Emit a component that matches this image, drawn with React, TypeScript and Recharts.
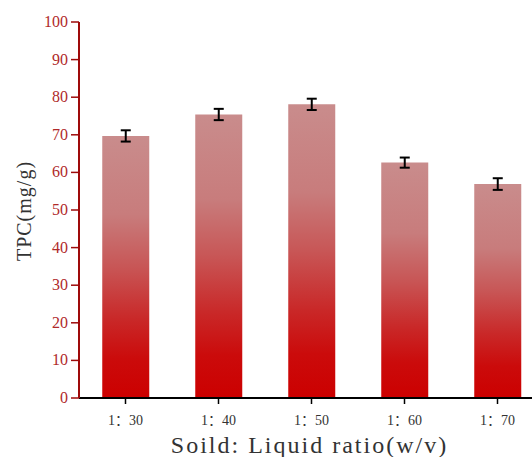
import React from 'react';
import { BarChart, Bar, XAxis, YAxis, ErrorBar, Label } from 'recharts';

const ratios = ['1：30', '1：40', '1：50', '1：60', '1：70'];
const tpcValues = [69.7, 75.4, 78.1, 62.6, 56.9];
const tpcErrors = [1.5, 1.5, 1.5, 1.35, 1.55];
const yMajorTicks = [0, 10, 20, 30, 40, 50, 60, 70, 80, 90, 100];
const yMinorTicks = [5, 15, 25, 35, 45, 55, 65, 75, 85, 95];
const xMinorTicks = [0, 1, 2, 3, 4, 5];

const data = ratios.map((r, i) => ({ ratio: r, tpc: tpcValues[i], err: tpcErrors[i] }));

const SERIF = "'Liberation Serif', 'Noto Sans CJK SC', serif";
const AXIS_RED = '#9e0a0a';

const XTick = (props: any) => {
  const { x, y, payload } = props;
  return (
    <text x={x} y={y + 19} textAnchor="middle" fontSize={14} fill="#333" style={{ fontFamily: SERIF }}>
      {payload.value}
    </text>
  );
};

const YTick = (props: any) => {
  const { x, y, payload } = props;
  return (
    <text x={x - 1} y={y + 5} textAnchor="end" fontSize={16} fill="#b02a2a" style={{ fontFamily: SERIF }}>
      {payload.value}
    </text>
  );
};

const XTitle = (props: any) => {
  const vb = props.viewBox;
  return (
    <text
      x={vb.x + vb.width / 2 - 2}
      y={vb.y + vb.height - 4}
      textAnchor="middle"
      fontSize={24}
      fill="#333"
      style={{ fontFamily: SERIF, letterSpacing: '2px' }}
    >
      Soild: Liquid ratio(w/v)
    </text>
  );
};

const YTitle = (props: any) => {
  const vb = props.viewBox;
  const cx = vb.x + 31;
  const cy = vb.y + vb.height / 2 + 1;
  return (
    <text
      x={cx}
      y={cy}
      transform={`rotate(-90 ${cx} ${cy})`}
      textAnchor="middle"
      fontSize={20}
      fill="#333"
      style={{ fontFamily: SERIF, letterSpacing: '1px' }}
    >
      TPC(mg/g)
    </text>
  );
};

export default function App() {
  return (
    <div style={{ position: 'absolute', left: 0, top: 0, width: 532, height: 457, overflow: 'hidden', background: '#fff' }}>
      <BarChart
        width={544}
        height={457}
        data={data}
        margin={{ top: 22, right: 0, bottom: 0, left: 0 }}
        barCategoryGap="25%"
      >
        <defs>
          <linearGradient id="barGrad" x1="0" y1="0" x2="0" y2="1">
            <stop offset="0%" stopColor="#c98c8c" />
            <stop offset="30%" stopColor="#c87c7c" />
            <stop offset="50%" stopColor="#c85656" />
            <stop offset="70%" stopColor="#c92828" />
            <stop offset="85%" stopColor="#cb0b0b" />
            <stop offset="100%" stopColor="#cc0000" />
          </linearGradient>
        </defs>
        <XAxis
          xAxisId="minor"
          type="number"
          domain={[0, 5]}
          ticks={xMinorTicks}
          height={0}
          axisLine={false}
          tickSize={4}
          tickLine={{ stroke: '#000', strokeWidth: 1.5 }}
          tick={() => <g />}
        />
        <XAxis
          dataKey="ratio"
          height={59}
          axisLine={{ stroke: '#000', strokeWidth: 2 }}
          tickLine={{ stroke: '#000', strokeWidth: 1.5 }}
          tickSize={6}
          tick={<XTick />}
          interval={0}
        >
          <Label content={<XTitle />} />
        </XAxis>
        <YAxis
          yAxisId="minor"
          orientation="left"
          domain={[0, 100]}
          ticks={yMinorTicks}
          width={0}
          axisLine={false}
          tickSize={4}
          tickLine={{ stroke: AXIS_RED, strokeWidth: 1.5 }}
          tick={() => <g />}
        />
        <YAxis
          domain={[0, 100]}
          ticks={yMajorTicks}
          width={79}
          axisLine={{ stroke: AXIS_RED, strokeWidth: 2 }}
          tickLine={{ stroke: AXIS_RED, strokeWidth: 1.5 }}
          tickSize={8}
          tick={<YTick />}
          interval={0}
        >
          <Label content={<YTitle />} />
        </YAxis>
        <Bar dataKey="tpc" fill="url(#barGrad)" isAnimationActive={false}>
          <ErrorBar dataKey="err" width={5} stroke="#000" strokeWidth={2} isAnimationActive={false} />
        </Bar>
      </BarChart>
    </div>
  );
}
